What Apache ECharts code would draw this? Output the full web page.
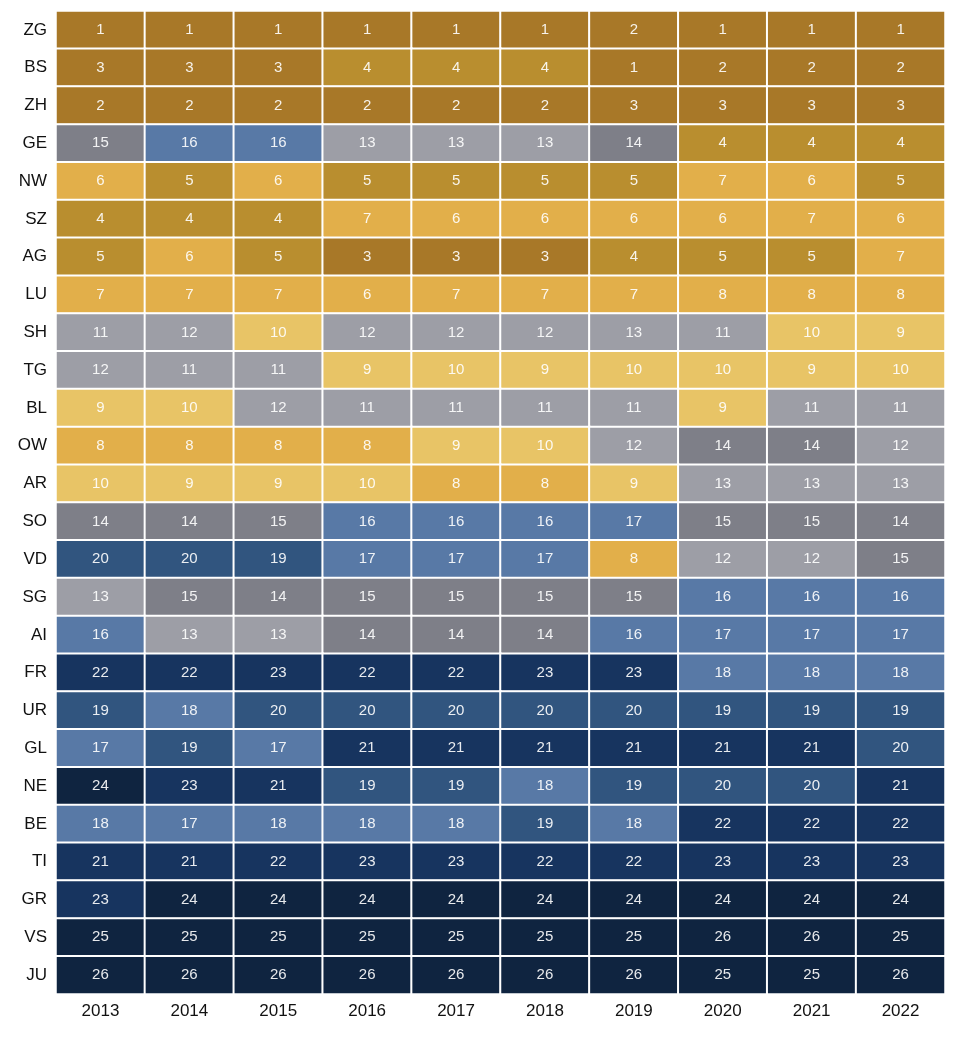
<!DOCTYPE html>
<html>
<head>
<meta charset="utf-8">
<script src="https://cdn.jsdelivr.net/npm/echarts@6/dist/echarts.min.js"></script>
<style>
html,body{margin:0;padding:0;background:#fff;}
#chart{width:960px;height:1039px;}
</style>
</head>
<body>
<div id="chart"></div>
<script>
const years = ['2013','2014','2015','2016','2017','2018','2019','2020','2021','2022'];
const cantons = ['ZG','BS','ZH','GE','NW','SZ','AG','LU','SH','TG','BL','OW','AR','SO','VD','SG','AI','FR','UR','GL','NE','BE','TI','GR','VS','JU'];

const ZG = [1,1,1,1,1,1,2,1,1,1];
const BS = [3,3,3,4,4,4,1,2,2,2];
const ZH = [2,2,2,2,2,2,3,3,3,3];
const GE = [15,16,16,13,13,13,14,4,4,4];
const NW = [6,5,6,5,5,5,5,7,6,5];
const SZ = [4,4,4,7,6,6,6,6,7,6];
const AG = [5,6,5,3,3,3,4,5,5,7];
const LU = [7,7,7,6,7,7,7,8,8,8];
const SH = [11,12,10,12,12,12,13,11,10,9];
const TG = [12,11,11,9,10,9,10,10,9,10];
const BL = [9,10,12,11,11,11,11,9,11,11];
const OW = [8,8,8,8,9,10,12,14,14,12];
const AR = [10,9,9,10,8,8,9,13,13,13];
const SO = [14,14,15,16,16,16,17,15,15,14];
const VD = [20,20,19,17,17,17,8,12,12,15];
const SG = [13,15,14,15,15,15,15,16,16,16];
const AI = [16,13,13,14,14,14,16,17,17,17];
const FR = [22,22,23,22,22,23,23,18,18,18];
const UR = [19,18,20,20,20,20,20,19,19,19];
const GL = [17,19,17,21,21,21,21,21,21,20];
const NE = [24,23,21,19,19,18,19,20,20,21];
const BE = [18,17,18,18,18,19,18,22,22,22];
const TI = [21,21,22,23,23,22,22,23,23,23];
const GR = [23,24,24,24,24,24,24,24,24,24];
const VS = [25,25,25,25,25,25,25,26,26,25];
const JU = [26,26,26,26,26,26,26,25,25,26];

const rows = [ZG,BS,ZH,GE,NW,SZ,AG,LU,SH,TG,BL,OW,AR,SO,VD,SG,AI,FR,UR,GL,NE,BE,TI,GR,VS,JU];

const data = [];
rows.forEach((r, yi) => r.forEach((v, xi) => data.push([xi, yi, v])));

const chart = echarts.init(document.getElementById('chart'));
chart.setOption({
  animation: false,
  grid: {left: 56, right: 15, top: 11, bottom: 45},
  xAxis: {
    type: 'category', data: years, position: 'bottom',
    axisLine: {show: false}, axisTick: {show: false}, splitLine: {show: false},
    axisLabel: {color: '#111', fontSize: 17, fontFamily: 'Liberation Sans', margin: 9}
  },
  yAxis: {
    type: 'category', data: cantons, inverse: true,
    axisLine: {show: false}, axisTick: {show: false}, splitLine: {show: false},
    axisLabel: {color: '#111', fontSize: 17, fontFamily: 'Liberation Sans', margin: 9}
  },
  visualMap: {
    show: false, type: 'piecewise', dimension: 2,
    pieces: [
      {min: 1, max: 3, color: '#a87828'},
      {min: 4, max: 5, color: '#b98e2f'},
      {min: 6, max: 8, color: '#e2af4a'},
      {min: 9, max: 10, color: '#e8c466'},
      {min: 11, max: 13, color: '#9d9ea6'},
      {min: 14, max: 15, color: '#7e7f88'},
      {min: 16, max: 18, color: '#5879a6'},
      {min: 19, max: 20, color: '#31557f'},
      {min: 21, max: 23, color: '#17345f'},
      {min: 24, max: 26, color: '#0f2440'}
    ]
  },
  series: [{
    type: 'heatmap',
    data: data,
    itemStyle: {borderColor: '#fff', borderWidth: 2},
    label: {
      show: true, color: 'rgba(255,255,255,0.9)', fontSize: 15,
      fontFamily: 'Liberation Sans',
      formatter: p => p.value[2]
    },
    emphasis: {disabled: true}
  }]
});
</script>
</body>
</html>
